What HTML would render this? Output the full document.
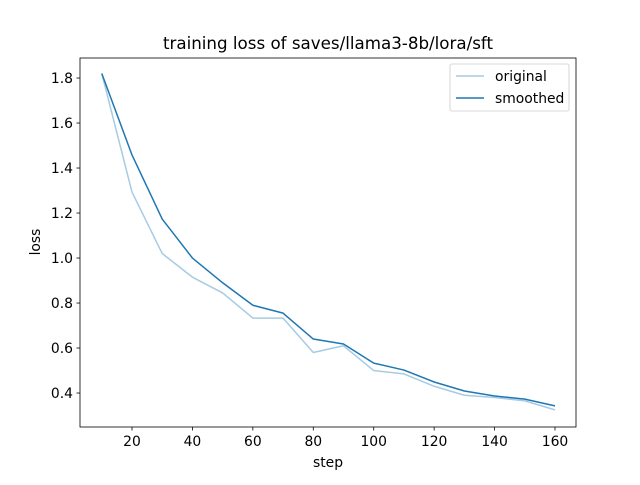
<!DOCTYPE html>
<html><head><meta charset="utf-8"><style>
body{margin:0;background:#fff;}
text{font-family:"DejaVu Sans","Liberation Sans",sans-serif;fill:#000;}
</style></head><body>
<svg id="chart" width="640" height="480" xmlns="http://www.w3.org/2000/svg">
<rect width="640" height="480" fill="#fff"/>
<text x="328" y="49" font-size="16.7" text-anchor="middle">training loss of saves/llama3-8b/lora/sft</text>
<g id="grid"></g>
<g id="marks"></g>
<rect x="80" y="58" width="496" height="369" fill="none" stroke="#000" stroke-width="0.8"/>
<text x="328" y="467" font-size="13.9" text-anchor="middle">step</text>
<text transform="translate(40,242) rotate(-90)" font-size="13.9" text-anchor="middle">loss</text>
<g>
<rect x="450" y="64" width="119" height="47" rx="2" fill="#fff" stroke="#ccc" stroke-width="0.8"/>
<line x1="456" y1="76" x2="484" y2="76" stroke="#a6cbe3" stroke-width="1.5"/>
<text x="495" y="81" font-size="13.9">original</text>
<line x1="456" y1="98" x2="484" y2="98" stroke="#1f77b4" stroke-width="1.5"/>
<text x="495" y="103" font-size="13.9">smoothed</text>
</g>
</svg>
<script>
const steps=[10,20,30,40,50,60,70,80,90,100,110,120,130,140,150,160];
const original=[1.82,1.293,1.02,0.915,0.845,0.733,0.733,0.58,0.61,0.50,0.485,0.43,0.39,0.38,0.365,0.325];
const smoothed=[1.82,1.458,1.173,1.0,0.89,0.79,0.755,0.64,0.618,0.533,0.502,0.449,0.409,0.387,0.373,0.343];
const xTicks=[20,40,60,80,100,120,140,160];
const yTicks=[0.4,0.6,0.8,1.0,1.2,1.4,1.6,1.8];
const X0=80,X1=576,Y0=58,Y1=427,xmin=2.79,xmax=166.95,ymin=0.249,ymax=1.889;
function sx(v){return X0+(v-xmin)/(xmax-xmin)*(X1-X0);}
function sy(v){return Y1-(v-ymin)/(ymax-ymin)*(Y1-Y0);}
const NS="http://www.w3.org/2000/svg";
const g=document.getElementById('grid'),m=document.getElementById('marks');
function el(t,a,p){const e=document.createElementNS(NS,t);for(const k in a)e.setAttribute(k,a[k]);p.appendChild(e);return e;}
xTicks.forEach(t=>{
 const x=sx(t);
 const l=el('line',{x1:x,x2:x,y1:Y1,y2:Y1+3.5,stroke:'#000','stroke-width':0.8},g);
 
 
 const tx=el('text',{x:x,y:Y1+19,'font-size':13.9,'text-anchor':'middle'},g);tx.textContent=t;
 
 
});
yTicks.forEach(t=>{
 const y=sy(t);
 const l=el('line',{x1:X0-3.5,x2:X0,y1:y,y2:y,stroke:'#000','stroke-width':0.8},g);
 
 
 const tx=el('text',{x:X0-7,y:y+5,'font-size':13.9,'text-anchor':'end'},g);tx.textContent=t.toFixed(1);
 
 
});
function line(vals,color,name){
 const pts=vals.map((v,i)=>sx(steps[i])+','+sy(v)).join(' ');
 const p=el('polyline',{points:pts,fill:'none',stroke:color,'stroke-width':1.5,'stroke-linejoin':'round'},m);
 
 
}
line(original,'#a6cbe3','original-line');
line(smoothed,'#1f77b4','smoothed-line');
</script>
</body></html>
